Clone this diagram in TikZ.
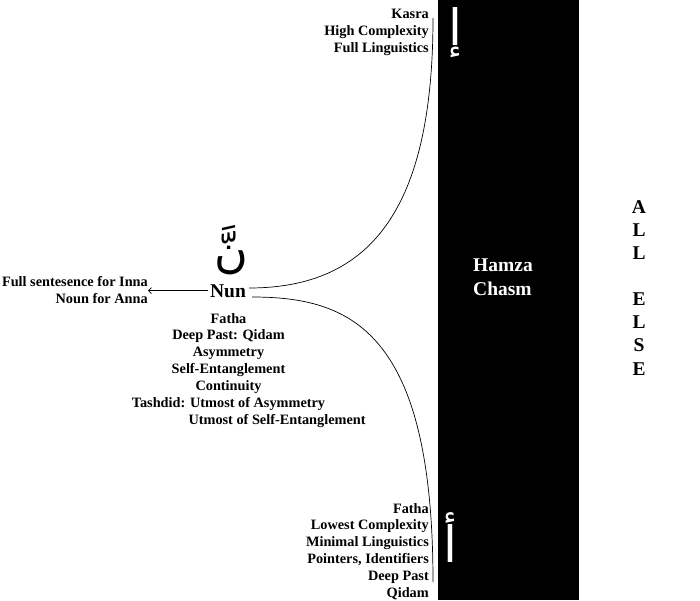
\documentclass[tikz,border=0pt]{standalone}
\usepackage{fontspec}
\usetikzlibrary{arrows.meta}
\setmainfont{Liberation Serif}
\newfontfamily\arabfont[Script=Arabic]{DejaVu Sans}
\TeXXeTstate=1
\begin{document}
\begin{tikzpicture}[x=1pt,y=-1pt,
  lbl/.style={font=\fontsize{14.3}{16.8}\selectfont\bfseries, inner sep=0pt},
  big/.style={font=\fontsize{19.5}{23.1}\selectfont\bfseries, inner sep=0pt},
  arab/.style={font=\fontsize{#1}{#1}\selectfont\arabfont, inner sep=0pt},
  conn/.style={draw=black, line width=0.7pt}]
\useasboundingbox (0,0) rectangle (700,600);
\fill[black] (438,0) rectangle (579,600);
% texts (base anchor = baseline of last line)
\node[lbl, align=right, anchor=base east] (kasra) at (429,52) {Kasra\\High Complexity\\Full Linguistics};
\node[lbl, align=right, anchor=base east] (fatha) at (429,597) {Fatha\\Lowest Complexity\\Minimal Linguistics\\Pointers, Identifiers\\Deep Past\\Qidam};
\node[lbl, align=right, anchor=base east] (inna) at (148,303) {Full sentesence for Inna\\Noun for Anna};
\node[big, anchor=base, inner xsep=1.5pt] (nunlbl) at (228,297) {Nun};
\node[lbl, align=center, anchor=base] (props) at (228.5,407) {Fatha\\Deep Past: Qidam\\Asymmetry\\Self-Entanglement\\Continuity\\Tashdid: Utmost of Asymmetry};
\node[lbl, anchor=base west] (props2) at (188.3,424) {Utmost of Self-Entanglement};
\node[big, text=white, align=left, anchor=base west] (hamza) at (473,295) {Hamza\\Chasm};
\node[big, align=center, anchor=base] (allelse) at (639,375) {A\\L\\L\\[23.1pt]E\\L\\S\\E};
% arabic letters
\node[arab=50, text=white] (kalef) at (455,33) {\beginR إ\endR};
\node[arab=50, text=white] (falef) at (450,538) {\beginR أ\endR};
\node[arab=46] (nunar) at (231,250) {\beginR نَّ\endR};
% connectors
\coordinate (n1) at (249,288);
\coordinate (n2) at (252,297);
\coordinate (ka) at (433,18);
\coordinate (fa) at (433,582);
\draw[conn] (n1) .. controls (370,288) and (433,210) .. (ka);
\draw[conn] (n2) .. controls (350,297) and (433,330) .. (fa);
\draw[conn,-{Straight Barb[length=3pt,width=6pt]}] (nunlbl.west) -- (nunlbl.west -| inna.east);
\end{tikzpicture}
\end{document}
